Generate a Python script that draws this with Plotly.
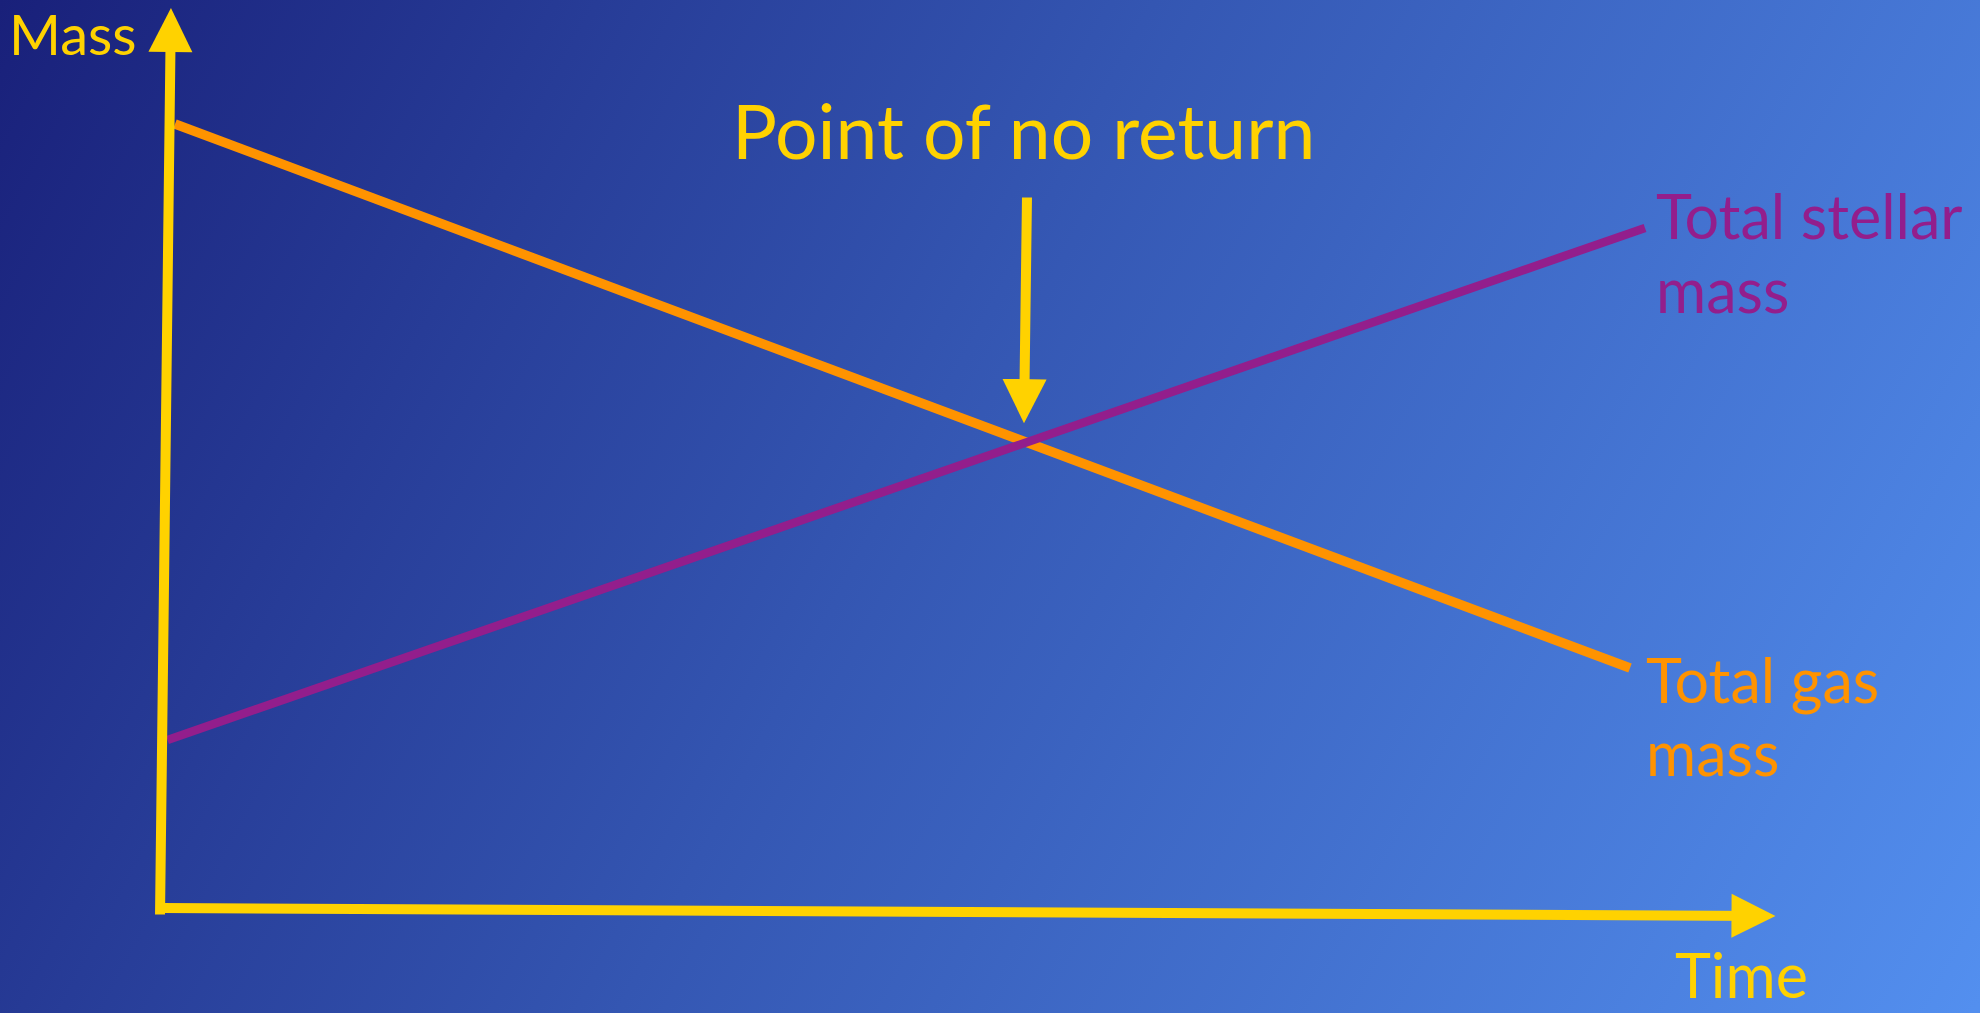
import base64
import plotly.graph_objects as go

# ---- data ----
gas_time = [0.1, 9.8]
gas_mass = [9.8, 3.0]
stellar_time = [0.05, 9.9]
stellar_mass = [2.1, 8.5]

# axis arrows (tail -> tip) in data units
yaxis_arrow = {"tail": (0.0, -0.1), "tip": (0.073, 11.25)}
xaxis_arrow = {"tail": (0.0, 0.0), "tip": (10.77, -0.1)}
# "point of no return" pointer
pnr_arrow = {"tail": (5.78, 8.9), "tip": (5.76, 6.06)}

labels = {
    "title": "Point of no return",
    "ylab": "Mass",
    "xlab": "Time",
    "stellar": ["Total stellar", "mass"],
    "gas": ["Total gas", "mass"],
}

YELLOW = "#FFD200"
ORANGE = "#FF9300"
PURPLE = "#931E8C"
FONT = "Lato"

W, H = 1980, 1013

# background gradient (style only)
svg = f'''<svg xmlns="http://www.w3.org/2000/svg" width="{W}" height="{H}" viewBox="0 0 {W} {H}" preserveAspectRatio="none">
<defs><linearGradient id="g" gradientUnits="userSpaceOnUse" x1="0" y1="0" x2="1960" y2="1040">
<stop offset="0" stop-color="#19207A"/>
<stop offset="0.46" stop-color="#3456B2"/>
<stop offset="1" stop-color="#538FEF"/>
</linearGradient></defs>
<rect x="0" y="0" width="{W}" height="{H}" fill="url(#g)"/></svg>'''
bg_uri = "data:image/svg+xml;base64," + base64.b64encode(svg.encode()).decode()

fig = go.Figure()
fig.add_trace(go.Scatter(x=gas_time, y=gas_mass, mode="lines",
                         line=dict(color=ORANGE, width=9.5), hoverinfo="skip",
                         showlegend=False))
fig.add_trace(go.Scatter(x=stellar_time, y=stellar_mass, mode="lines",
                         line=dict(color=PURPLE, width=8.5), hoverinfo="skip",
                         showlegend=False))

annotations = []


def arrow(a, width=10, size=0.88):
    (tx, ty), (hx, hy) = a["tail"], a["tip"]
    return dict(x=hx, y=hy, ax=tx, ay=ty, xref="x", yref="y", axref="x", ayref="y",
                text="", showarrow=True, arrowhead=2, arrowsize=size,
                arrowwidth=width, arrowcolor=YELLOW, standoff=0)


annotations.append(arrow(yaxis_arrow))
annotations.append(arrow(xaxis_arrow))
annotations.append(arrow(pnr_arrow))


def py(p):
    return 1 - p / H


def px(p):
    return p / W


def text(t, x, y, size, color, xanchor="left", yanchor="middle"):
    return dict(text=t, x=px(x), y=py(y), xref="paper", yref="paper",
                xanchor=xanchor, yanchor=yanchor, showarrow=False,
                borderpad=0, font=dict(family=FONT, size=size, color=color))


annotations.append(text(labels["ylab"], 8, 33, 56, YELLOW))
annotations.append(text(labels["title"], 1023, 130, 75, YELLOW, xanchor="center"))
annotations.append(text(labels["stellar"][0], 1655, 215.5, 61, PURPLE))
annotations.append(text(labels["stellar"][1], 1655, 289.5, 61, PURPLE))
annotations.append(text(labels["gas"][0], 1645, 679.5, 61, ORANGE))
annotations.append(text(labels["gas"][1], 1645, 752.5, 61, ORANGE))
annotations.append(text(labels["xlab"], 1674, H - 1, 61, YELLOW, yanchor="bottom"))

fig.update_layout(
    width=W, height=H,
    margin=dict(l=0, r=0, t=0, b=0),
    paper_bgcolor="#19207A", plot_bgcolor="rgba(0,0,0,0)",
    xaxis=dict(range=[-160 / 150, (W - 160) / 150], visible=False, fixedrange=True),
    yaxis=dict(range=[(908 - H) / 80, 908 / 80], visible=False, fixedrange=True),
    images=[dict(source=bg_uri, xref="paper", yref="paper", x=0, y=1,
                 sizex=1, sizey=1, sizing="stretch", layer="below",
                 xanchor="left", yanchor="top")],
    annotations=annotations,
    showlegend=False,
)

fig.write_html("out.html", config={"displayModeBar": False},
               post_script="document.body.style.margin='0';"
                           "document.body.style.overflow='hidden';")
